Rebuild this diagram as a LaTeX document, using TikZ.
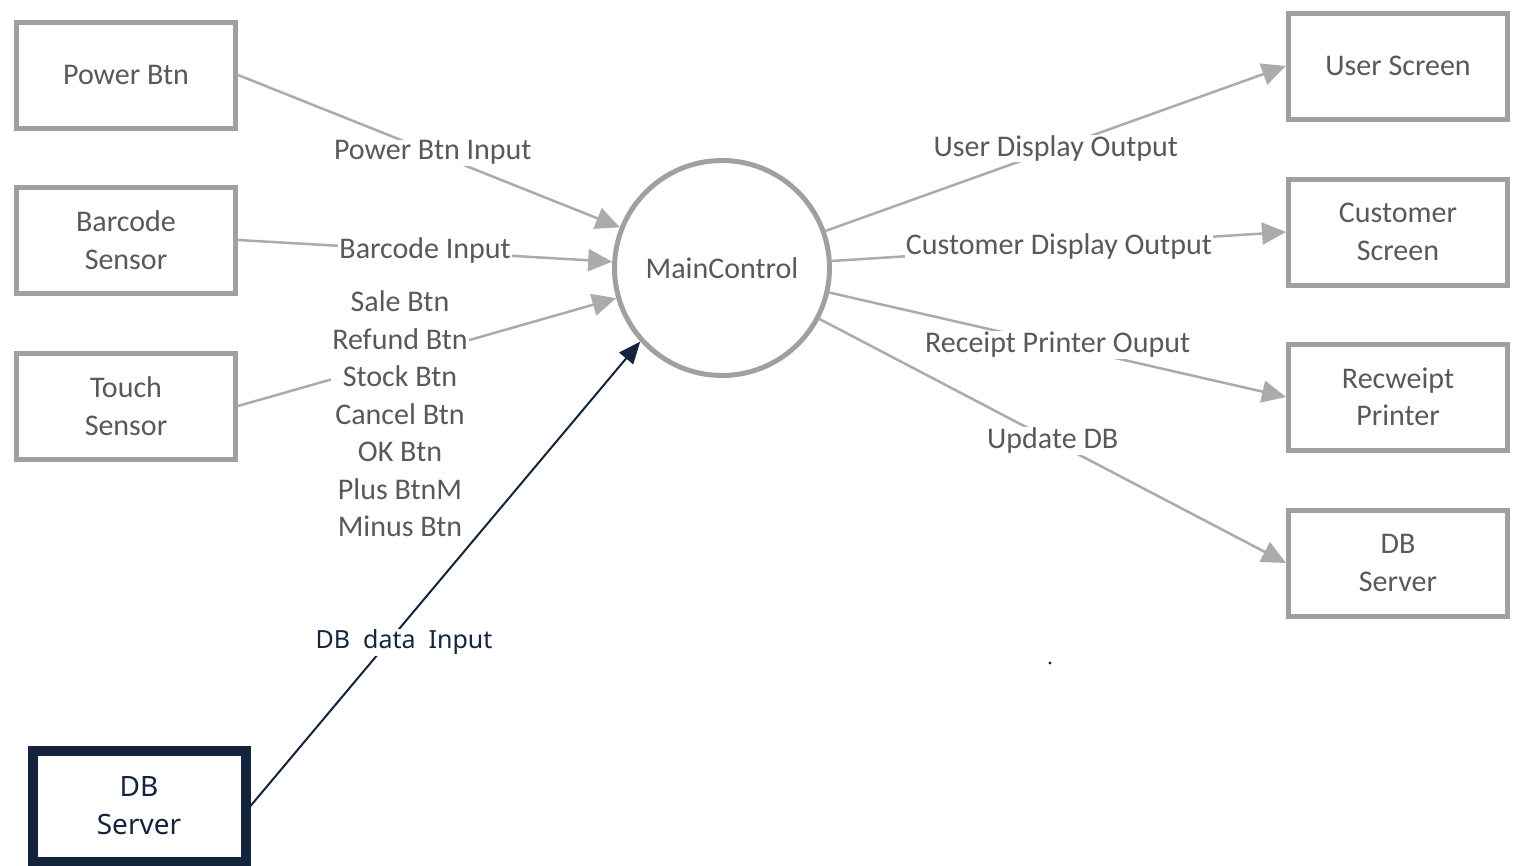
\documentclass[tikz,border=0pt]{standalone}
\usepackage{fontspec}
\setmainfont{Carlito}
\newfontfamily\darkfont{Noto Sans}
\usetikzlibrary{arrows.meta}
\definecolor{boxgray}{HTML}{A0A0A0}
\definecolor{linegray}{HTML}{ABABAB}
\definecolor{txtgray}{HTML}{595959}
\definecolor{navy}{HTML}{14243D}
\begin{document}
\begin{tikzpicture}[x=1pt,y=-1pt,
  box/.style={draw=boxgray, line width=5pt, minimum width=219pt, minimum height=106pt, inner sep=0pt, align=center, text=txtgray, font=\fontsize{30}{37.5}\selectfont},
  flow/.style={draw=linegray, line width=2.5pt, -{Triangle[length=24pt,width=22pt]}},
  lbl/.style={fill=white, inner sep=1pt, text=txtgray, font=\fontsize{30}{37.5}\selectfont},
  darkflow/.style={draw=navy, line width=2pt, -{Triangle[length=22pt,width=18pt]}},
  darklbl/.style={fill=white, inner sep=1pt, text=navy, font=\darkfont\fontsize{25}{36}\selectfont},
]
\useasboundingbox[fill=white] (0,0) rectangle (1513,865);
% left boxes
\node[box] (pb) at (126,75) {Power Btn};
\node[box] (bs) at (126,240) {Barcode\\Sensor};
\node[box] (ts) at (126,406) {Touch\\Sensor};
% right boxes
\node[box] (us) at (1398,66) {User Screen};
\node[box] (cs) at (1398,232) {Customer\\Screen};
\node[box] (rp) at (1398,397) {Recweipt\\Printer};
\node[box] (db) at (1398,563) {DB\\Server};
% central process
\node[circle, draw=boxgray, line width=5pt, minimum size=215pt, inner sep=0pt, text=txtgray, font=\fontsize{30}{37.5}\selectfont] (mc) at (722,268) {MainControl};
% dark DB server
\node[draw=navy, line width=10pt, minimum width=213pt, minimum height=111pt, inner sep=0pt, align=center, text=navy, font=\darkfont\fontsize{28}{38}\selectfont] (dbl) at (139,806) {DB\\Server};
% input flows
\draw[flow] (pb.east) -- node[lbl, pos=0.51] {Power Btn Input} (mc);
\draw[flow] (bs.east) -- node[lbl, pos=0.5] {Barcode Input} (mc);
\draw[flow] (ts.east) -- (mc);
\node[lbl, align=center] (tl) at (400,414) {Sale Btn\\Refund Btn\\Stock Btn\\Cancel Btn\\OK Btn\\Plus BtnM\\Minus Btn};
\draw[darkflow] (dbl.east) -- (mc.222);
\node[darklbl] (dl) at (404,642) {DB\ \ data\ \ Input};
% output flows
\draw[flow] (mc) -- node[lbl, pos=0.5] {User Display Output} (us.west);
\draw[flow] (mc) -- node[lbl, pos=0.5] {Customer Display Output} (cs.west);
\draw[flow] (mc) -- node[lbl, pos=0.5] {Receipt Printer Ouput} (rp.west);
\draw[flow] (mc) -- node[lbl, pos=0.5] {Update DB} (db.west);
% stray dot
\fill[navy] (1050,663) circle (1.6pt);
\end{tikzpicture}
\end{document}
